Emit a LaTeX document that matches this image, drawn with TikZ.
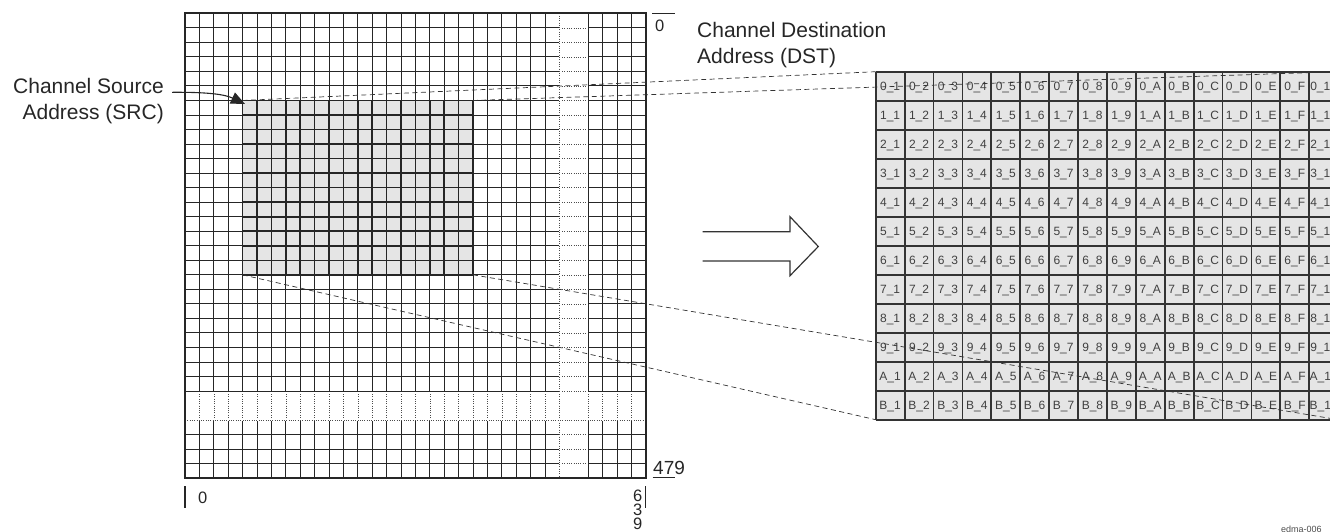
\documentclass[tikz,border=0pt]{standalone}
\usepackage{fontspec}
\setmainfont{Liberation Sans}
\usetikzlibrary{arrows.meta}
\begin{document}
\begin{tikzpicture}[x=1pt,y=-1pt,
  gridline/.style={line width=0.95pt, black!85},
  dotline/.style={line width=0.6pt, black!70, dash pattern=on 1pt off 1.3pt},
  shadeline/.style={line width=1.6pt, black!85},
  cellline/.style={line width=1.8pt, black!80},
  conn/.style={dash pattern=on 5pt off 3.5pt, line width=0.7pt, black!80},
  biglbl/.style={font=\fontsize{21}{26.5}\selectfont, text=black!85, inner sep=0pt},
  numlbl/.style={font=\fontsize{16.5}{14}\selectfont, text=black!85, inner sep=0pt},
  cell/.style={font=\fontsize{12}{12}\selectfont, text=black!75, inner sep=0pt},
  tick/.style={line width=1.3pt, black!85},
  hollow/.style={line width=1.2pt, black!80, line join=miter}]
\useasboundingbox (0,0) rectangle (1330,531);
\clip (0,0) rectangle (1330,531);

% ---------------- left frame buffer grid ----------------
\foreach \i in {0,...,32} {
  \draw[gridline] ({185+\i*14.4},13.3) -- ({185+\i*14.4},478.3);
  \draw[gridline] (185,{13.3+\i*14.53}) -- (645.8,{13.3+\i*14.53});
}
% dotted column
\fill[white] (558.8,14.3) rectangle (587.6,477.3);
\draw[dotline] (559.4,13.3) -- (559.4,478.3);
\foreach \j in {1,...,31}
  \draw[dotline] (562,{13.3+\j*14.53}) -- (586,{13.3+\j*14.53});
% dotted row
\fill[white] (186,391.9) rectangle (645,420.9);
\foreach \i in {1,...,26,28,29,30,31}
  \draw[dotline] ({185+\i*14.4},394) -- ({185+\i*14.4},418);
\draw[dotline] (185,420.14) -- (645.8,420.14);
% outer border
\draw[line width=1.9pt, black!85] (185,13.3) rectangle (645.8,478.3);

% source block
\fill[black!10] (242.6,100.48) rectangle (473.0,274.84);
\foreach \i in {0,...,16}
  \draw[shadeline] ({242.6+\i*14.4},100.48) -- ({242.6+\i*14.4},274.84);
\foreach \j in {0,...,12}
  \draw[shadeline] (242.6,{100.48+\j*14.53}) -- (473.0,{100.48+\j*14.53});
\coordinate (srcTL) at (242.6,100.48);
\coordinate (srcTR) at (473.0,100.48);
\coordinate (srcBL) at (242.6,274.84);
\coordinate (srcBR) at (473.0,274.84);

% axis labels
\coordinate (t0a) at (652,13.3);
\coordinate (t0b) at (675,13.3);
\draw[tick] (t0a) -- (t0b);
\node[numlbl, anchor=base west] (top0) at (655,31.5) {0};
\coordinate (t479a) at (652.7,477.8);
\coordinate (t479b) at (675,477.8);
\draw[tick] (t479a) -- (t479b);
\node[numlbl, font=\fontsize{19}{19}\selectfont, anchor=base west] (n479) at (653,474.5) {479};
\coordinate (b0a) at (185,486);
\coordinate (b0b) at (185,508);
\draw[tick] (b0a) -- (b0b);
\node[numlbl, anchor=base west] (bot0) at (198,503) {0};
\coordinate (b639a) at (645.7,486);
\coordinate (b639b) at (645.7,508);
\draw[tick] (b639a) -- (b639b);
\node[numlbl, anchor=base] (d6) at (637.7,501.5) {6};
\node[numlbl, anchor=base] (d3) at (637.7,515.5) {3};
\node[numlbl, anchor=base] (d9) at (637.7,529.5) {9};

% source label and arrow
\node[biglbl, anchor=base east] (srcl1) at (164,93) {Channel Source};
\node[biglbl, anchor=base east] (srcl2) at (164,119.5) {Address (SRC)};
\coordinate (srcstart) at (172,92.3);
\coordinate (srctip) at (245,104);
\draw[line width=1.1pt, black!85, -{Triangle[length=14pt,width=12pt]}]
  (srcstart) .. controls (212,92) and (226,95) .. (srctip);

% destination label
\node[biglbl, anchor=base west] (dstl1) at (697,37) {Channel Destination};
\node[biglbl, anchor=base west] (dstl2) at (697,63.5) {Address (DST)};

% hollow arrow
\draw[hollow] (702.7,231.7) -- (790,231.7) -- (790,216.7) -- (818.3,246.5)
  -- (790,275.7) -- (790,261) -- (702.7,261);

% ---------------- destination block ----------------
\fill[black!10] (875.7,71.7) rectangle (1338.1,419.7);
\foreach \r [count=\ri from 0] in {0,1,2,3,4,5,6,7,8,9,A,B} {
  \foreach \c [count=\ci from 0] in {1,2,3,4,5,6,7,8,9,A,B,C,D,E,F,10} {
    \node[cell, anchor=base] (c-\r-\c) at ({875.7+(\ci+0.5)*28.9},{71.7+(\ri+0.5)*29+4.5}) {\r\_\c};
  }
}
\foreach \i in {0,...,16}
  \draw[cellline] ({875.7+\i*28.9},71.7) -- ({875.7+\i*28.9},419.7);
\foreach \j in {0,...,12}
  \draw[cellline] (875.7,{71.7+\j*29}) -- (1338.1,{71.7+\j*29});
\coordinate (dstTL) at (875.7,71.7);
\coordinate (dstTR) at (1338.1,71.7);
\coordinate (dstBL) at (875.7,419.7);
\coordinate (dstBR) at (1338.1,419.7);

% mapping lines
\draw[conn] (srcTL) -- (dstTL);
\draw[conn] (srcTR) -- (dstTR);
\draw[conn] (srcBL) -- (dstBL);
\draw[conn] (srcBR) -- (dstBR);

% figure id
\node[font=\fontsize{9}{9}\selectfont, text=black!70, anchor=north west, inner sep=0pt] (figid) at (1281,525.5) {edma-006};
\end{tikzpicture}
\end{document}
